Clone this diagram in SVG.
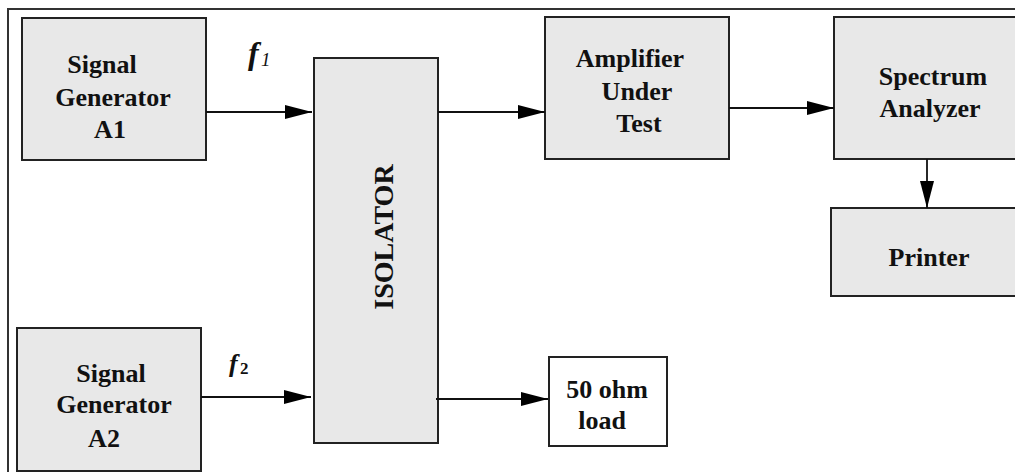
<svg xmlns="http://www.w3.org/2000/svg" width="1015" height="472" viewBox="0 0 1015 472">
<style>
.box{fill:#e8e8e8;stroke:#222;stroke-width:2}
.wbox{fill:#fff;stroke:#222;stroke-width:2}
.t{font-family:"Liberation Serif","Times New Roman",serif;font-weight:bold;font-size:26px;fill:#111;text-anchor:middle}
.f{font-family:"Liberation Serif","Times New Roman",serif;font-style:italic;font-weight:bold;fill:#111}
.c{stroke:#111;stroke-width:1.8;fill:none;marker-end:url(#ah)}
</style>
<defs>
<marker id="ah" markerUnits="userSpaceOnUse" markerWidth="28" markerHeight="16" refX="27" refY="7" orient="auto">
<path d="M0,0 L27,7 L0,14 z" fill="#000"/>
</marker>
</defs>
<rect width="1015" height="472" fill="#fff"/>
<rect x="8" y="9" width="1020" height="480" fill="none" stroke="#333" stroke-width="2"/>

<g id="sgA1">
<rect class="box" x="22" y="18" width="184" height="142"/>
<text class="t" x="102" y="73">Signal</text>
<text class="t" x="113" y="106">Generator</text>
<text class="t" x="110" y="138">A1</text>
</g>
<g id="sgA2">
<rect class="box" x="17" y="328" width="184" height="143"/>
<text class="t" x="111" y="382">Signal</text>
<text class="t" x="114" y="413">Generator</text>
<text class="t" x="104" y="447">A2</text>
</g>
<g id="isolator">
<rect class="box" x="314" y="58" width="124" height="385"/>
<text class="t" style="font-size:28px" transform="translate(393,237) rotate(-90)">ISOLATOR</text>
</g>
<g id="amp">
<rect class="box" x="545" y="17" width="184" height="142"/>
<text class="t" x="630" y="67">Amplifier</text>
<text class="t" x="637" y="100">Under</text>
<text class="t" x="639" y="132">Test</text>
</g>
<g id="spectrum">
<rect class="box" x="834" y="17" width="200" height="142"/>
<text class="t" x="933" y="85">Spectrum</text>
<text class="t" x="930" y="117">Analyzer</text>
</g>
<g id="printer">
<rect class="box" x="831" y="208" width="200" height="88"/>
<text class="t" x="929" y="266">Printer</text>
</g>
<g id="load">
<rect class="wbox" x="549" y="357" width="118" height="89"/>
<text class="t" x="607" y="398">50 ohm</text>
<text class="t" x="602" y="429">load</text>
</g>
<g id="labels">
<text class="f" x="248" y="64" style="font-size:32px">f</text>
<text class="f" x="261" y="66" style="font-size:19px;font-weight:normal">1</text>
<text class="f" x="229" y="372" style="font-size:26px">f</text>
<text x="240" y="374" style="font-family:'Liberation Serif',serif;font-size:17px;font-weight:bold;fill:#111">2</text>
</g>
<g id="connectors">
<line class="c" x1="206" y1="112" x2="312" y2="112"/>
<line class="c" x1="201" y1="397" x2="311" y2="397"/>
<line class="c" x1="438" y1="112" x2="545" y2="112"/>
<line class="c" x1="729" y1="108" x2="834" y2="108"/>
<line class="c" x1="927" y1="159" x2="927" y2="208"/>
<line class="c" x1="436" y1="399" x2="548" y2="399"/>
</g>
</svg>
